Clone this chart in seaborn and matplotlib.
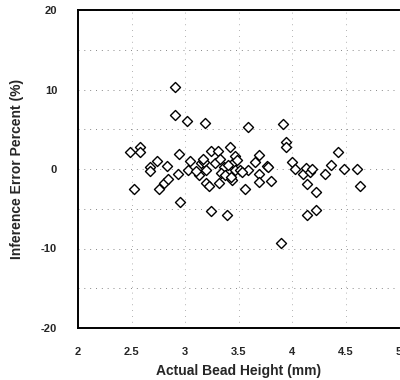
import matplotlib
matplotlib.use("Agg")
import matplotlib.pyplot as plt
import seaborn as sns
import pandas as pd
from matplotlib.ticker import MultipleLocator, FuncFormatter

bead_height = [2.91, 2.91, 3.02, 3.19, 3.59, 3.92, 3.94, 3.94,
               2.49, 2.58, 2.58, 2.52, 2.67, 2.67, 2.74, 2.83, 2.76, 2.80, 2.84,
               2.94, 2.93, 2.95, 3.03, 3.05, 3.13, 3.15, 3.18, 3.20, 3.22, 3.20,
               3.24, 3.31, 3.28, 3.24, 3.39, 3.32, 3.36, 3.34, 3.37, 3.42, 3.44,
               3.45, 3.47, 3.47, 3.51, 3.56, 3.59, 3.65, 3.69, 3.69, 3.69, 3.77,
               3.78, 3.80, 4.00, 4.03, 4.10, 4.13, 4.14, 4.17, 4.19, 4.22, 4.14,
               4.22, 4.31, 4.36, 4.43, 4.49, 4.61, 4.64, 3.90,
               3.40, 3.49, 3.53, 3.33, 3.43, 3.17, 3.10]
error_pct = [10.3, 6.8, 6.1, 5.8, 5.3, 5.7, 3.4, 2.8,
             2.2, 2.8, 2.2, -2.5, 0.2, -0.2, 1.0, 0.4, -2.5, -1.7, -1.2,
             1.9, -0.6, -4.1, -0.1, 1.0, -0.8, 0.8, 0.9, -1.8, -2.2, -0.1,
             2.3, 2.3, 0.7, -5.3, -5.8, -1.8, 0.3, -0.5, -0.8, 2.8, -1.4,
             0.7, 1.6, -0.1, -0.1, -2.5, -0.1, 0.9, 1.8, -0.6, -1.6, 0.4,
             0.2, -1.5, 0.9, 0.0, -0.6, 0.1, -1.9, -0.4, 0.0, -2.9, -5.8,
             -5.2, -0.6, 0.5, 2.2, 0.0, 0.0, -2.1, -9.3,
             0.5, 1.1, -0.4, 1.2, -1.0, 1.3, -0.3]

df = pd.DataFrame({"Actual Bead Height (mm)": bead_height,
                   "Inference Error Percent (%)": error_pct})

sns.set_style("white")
plt.rcParams['font.family'] = ['Liberation Sans', 'DejaVu Sans']

fig = plt.figure(figsize=(4.0, 3.8), dpi=100)
ax = fig.add_axes([78/400, 52/380, 321/400, 318/380])

sns.scatterplot(data=df, x="Actual Bead Height (mm)", y="Inference Error Percent (%)",
                marker="D", s=26, facecolor="white", edgecolor="black",
                linewidth=1.0, ax=ax, zorder=3)

ax.set_xlim(2, 5)
ax.set_ylim(-20, 20)
ax.xaxis.set_major_locator(MultipleLocator(0.5))
ax.xaxis.set_minor_locator(MultipleLocator(0.25))
ax.yaxis.set_major_locator(MultipleLocator(10))
ax.yaxis.set_minor_locator(MultipleLocator(5))
ax.xaxis.set_major_formatter(FuncFormatter(lambda v, p: f"{v:g}"))
ax.yaxis.set_major_formatter(FuncFormatter(lambda v, p: f"{v:g}"))

ax.tick_params(axis="both", which="both", direction="out", length=5, width=1.2,
               color="black", labelsize=8)
ax.tick_params(axis="x", which="major", pad=9)
ax.tick_params(axis="y", which="major", length=8, pad=7)
ax.tick_params(axis="y", which="minor", length=6)
for lab in ax.get_xticklabels() + ax.get_yticklabels():
    lab.set_fontweight("bold")

ax.grid(True, which="major", axis="x", linestyle=(0, (1, 6)), color="#999999", linewidth=0.6)
ax.grid(True, which="both", axis="y", linestyle=(0, (1, 5)), color="#888888", linewidth=0.7)
ax.set_axisbelow(True)

for side in ["left", "bottom", "top", "right"]:
    ax.spines[side].set_color("black")
    ax.spines[side].set_linewidth(1.4)
ax.spines["right"].set_visible(False)

ax.set_xlabel("Actual Bead Height (mm)", fontsize=10, fontweight="bold", labelpad=5)
ax.set_ylabel("Inference Error Percent (%)", fontsize=10, fontweight="bold", labelpad=12)

fig.savefig("out.png", dpi=100, facecolor="white")
